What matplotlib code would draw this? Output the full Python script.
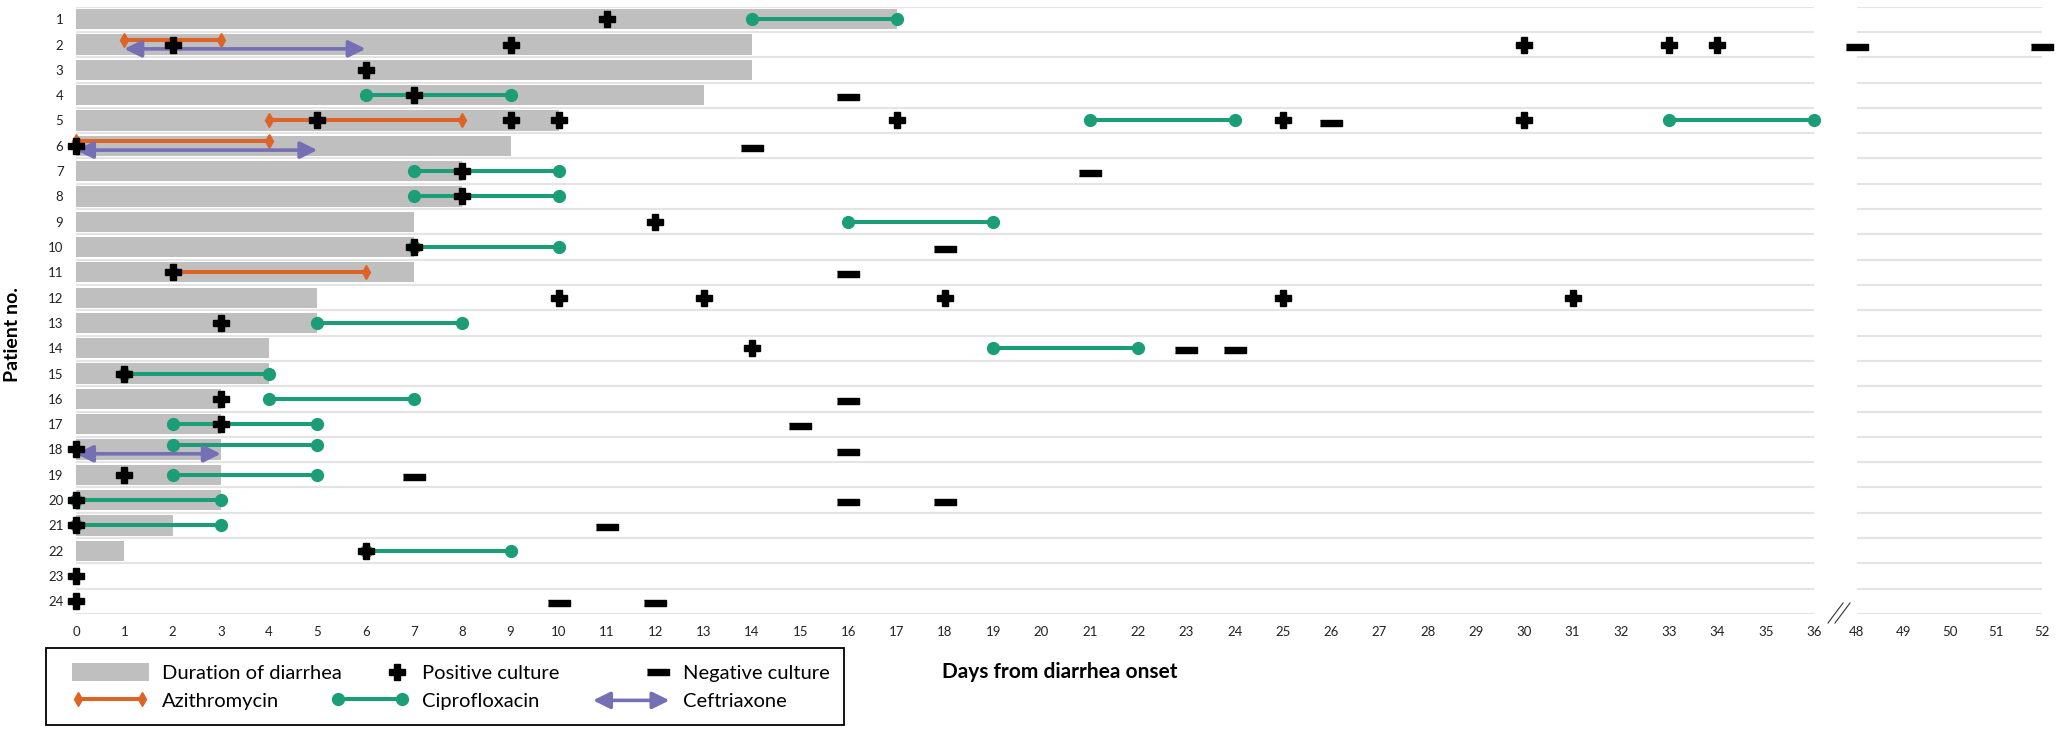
import matplotlib
matplotlib.use("Agg")
import numpy as np
import matplotlib.pyplot as plt
from matplotlib.lines import Line2D
from matplotlib.patches import Patch, Rectangle, FancyArrowPatch
from matplotlib.legend_handler import HandlerBase

plt.rcParams['font.family'] = ['Lato', 'DejaVu Sans']

# ---- data ----
patients = list(range(1, 25))
diarrhea_days = [17, 14, 14, 13, 10, 9, 8, 8, 7, 7, 7, 5,
                 5, 4, 4, 3, 3, 3, 3, 3, 2, 1, 0, 0]

positive_culture = {
    1: [11], 2: [2, 9, 30, 33, 34], 3: [6], 4: [7],
    5: [5, 9, 10, 17, 25, 30], 6: [0], 7: [8], 8: [8], 9: [12],
    10: [7], 11: [2], 12: [10, 13, 18, 25, 31], 13: [3], 14: [14],
    15: [1], 16: [3], 17: [3], 18: [0], 19: [1], 20: [0], 21: [0],
    22: [6], 23: [0], 24: [0],
}
negative_culture = {
    2: [48, 52], 4: [16], 5: [26], 6: [14], 7: [21], 10: [18],
    11: [16], 14: [23, 24], 16: [16], 17: [15], 18: [16], 19: [7],
    20: [16, 18], 21: [11], 24: [10, 12],
}

# (patient, first day, last day)
azithromycin = [(2, 1, 3), (5, 4, 8), (6, 0, 4), (11, 2, 6)]
ciprofloxacin = [(1, 14, 17), (4, 6, 9), (5, 21, 24), (5, 33, 36),
                 (7, 7, 10), (8, 7, 10), (9, 16, 19), (10, 7, 10),
                 (13, 5, 8), (14, 19, 22), (15, 1, 4), (16, 4, 7),
                 (17, 2, 5), (18, 2, 5), (19, 2, 5), (20, 0, 3),
                 (21, 0, 3), (22, 6, 9)]
ceftriaxone = [(2, 1, 6), (6, 0, 5), (18, 0, 3)]

left_days = list(range(0, 37))
right_days = list(range(48, 53))

GRAY = '#bfbfbf'
ORANGE = '#dd6426'
GREEN = '#1b9e77'
PURPLE = '#7570b3'
GRID = '#e4e4e4'

MINUS = [(-1, -0.22), (1, -0.22), (1, 0.22), (-1, 0.22)]
ARROW = '<|-|>,head_length=0.85,head_width=0.42'

W, H = 2061, 732
fig = plt.figure(figsize=(W / 100, H / 100), dpi=100)
bottom = 1 - 614 / H
height = (614 - 6.6) / H
ax = fig.add_axes([76 / W, bottom, (1814 - 76) / W, height])
ax2 = fig.add_axes([1857 / W, bottom, (2042 - 1857) / W, height])

for a, days in ((ax, left_days), (ax2, right_days)):
    a.set_xlim(days[0], days[-1])
    a.set_ylim(24.5, 0.5)
    a.set_xticks(days)
    for y in np.arange(0.5, 25, 1):
        a.axhline(y, color=GRID, lw=1.6, zorder=0)
    for s in a.spines.values():
        s.set_visible(False)
    a.tick_params(length=0, labelsize=9.5, labelcolor='#222222')
    a.tick_params(axis='x', pad=9)
ax.set_yticks(patients)
ax.tick_params(axis='y', pad=9)
ax2.set_yticks([])


def axis_for(day):
    return ax2 if day > 36 else ax


ax.barh(patients, diarrhea_days, height=0.8, color=GRAY, zorder=1)

ceft_patients = {p for p, _, _ in ceftriaxone}


def draw_course(courses, color, marker, ms):
    for p, s, e in courses:
        y = p - 0.17 if p in ceft_patients else p
        ax.plot([s, e], [y, y], color=color, lw=2.9, marker=marker, ms=ms,
                zorder=3, clip_on=False)


draw_course(azithromycin, ORANGE, 'd', 7.5)
draw_course(ciprofloxacin, GREEN, 'o', 8.5)

for p, s, e in ceftriaxone:
    y = p + 0.17
    ax.annotate('', xy=(e, y), xytext=(s, y), annotation_clip=False,
                arrowprops=dict(arrowstyle=ARROW, color=PURPLE, lw=2.6,
                                shrinkA=0, shrinkB=0, mutation_scale=12),
                zorder=3)

for p, days in positive_culture.items():
    for d in days:
        axis_for(d).plot(d, p, marker='P', ms=12, color='black', ls='none',
                         zorder=5, clip_on=False)

for p, days in negative_culture.items():
    for d in days:
        axis_for(d).plot(d, p + 0.08, marker=MINUS, ms=16.5, color='black',
                         ls='none', zorder=5, clip_on=False)

# axis break marks
for dx in (0, 7):
    fig.add_artist(Line2D([(1828 + dx) / W, (1843 + dx) / W],
                          [1 - 623 / H, 1 - 603 / H],
                          transform=fig.transFigure, color='#333333', lw=0.8))

fig.text(13 / W, 1 - 335 / H, 'Patient no.', rotation=90, fontsize=14,
         fontweight='bold', ha='center', va='center')
fig.text(1060 / W, 1 - 672 / H, 'Days from diarrhea onset', fontsize=15,
         fontweight='bold', ha='center', va='center')


# ---- legend ----
class RightMarker(HandlerBase):
    def create_artists(self, legend, orig, xdescent, ydescent, width, height,
                       fontsize, trans):
        m = Line2D([width * 0.85 - xdescent], [height / 2 - ydescent],
                   marker=orig.get_marker(), ms=orig.get_markersize(),
                   color=orig.get_color(), ls='none', transform=trans)
        return [m]


class DoubleArrow(HandlerBase):
    def create_artists(self, legend, orig, xdescent, ydescent, width, height,
                       fontsize, trans):
        y = height / 2 - ydescent
        a = FancyArrowPatch((-xdescent, y), (width - xdescent, y),
                            arrowstyle=ARROW, mutation_scale=12,
                            color=orig.get_color(), lw=orig.get_linewidth(),
                            shrinkA=0, shrinkB=0, transform=trans)
        return [a]


h_bar = Patch(facecolor=GRAY)
h_pos = Line2D([], [], marker='P', ms=12, color='black', ls='none')
h_neg = Line2D([], [], marker=MINUS, ms=16.5, color='black', ls='none')
h_azi = Line2D([], [], color=ORANGE, lw=2.9, marker='d', ms=7.5)
h_cip = Line2D([], [], color=GREEN, lw=2.9, marker='o', ms=8.5)
h_cef = Line2D([], [], color=PURPLE, lw=2.6)

columns = [
    (72, [h_bar, h_azi], ['Duration of diarrhea', 'Azithromycin']),
    (332, [h_pos, h_cip], ['Positive culture', 'Ciprofloxacin']),
    (593, [h_neg, h_cef], ['Negative culture', 'Ceftriaxone']),
]
for x0, hs, labs in columns:
    fig.legend(hs, labs, loc='center left',
               bbox_to_anchor=(x0 / W, 1 - 686.5 / H), frameon=False,
               fontsize=14.5, handlelength=3.8, handleheight=1.05,
               handletextpad=0.65, labelspacing=0.45, borderpad=0,
               borderaxespad=0, numpoints=2,
               handler_map={h_pos: RightMarker(), h_neg: RightMarker(),
                            h_cef: DoubleArrow()})

fig.add_artist(Rectangle((46 / W, 1 - 725 / H), 798 / W, 77 / H,
                         transform=fig.transFigure, fill=False,
                         edgecolor='black', lw=1.3))

fig.savefig('out.png', dpi=100)
